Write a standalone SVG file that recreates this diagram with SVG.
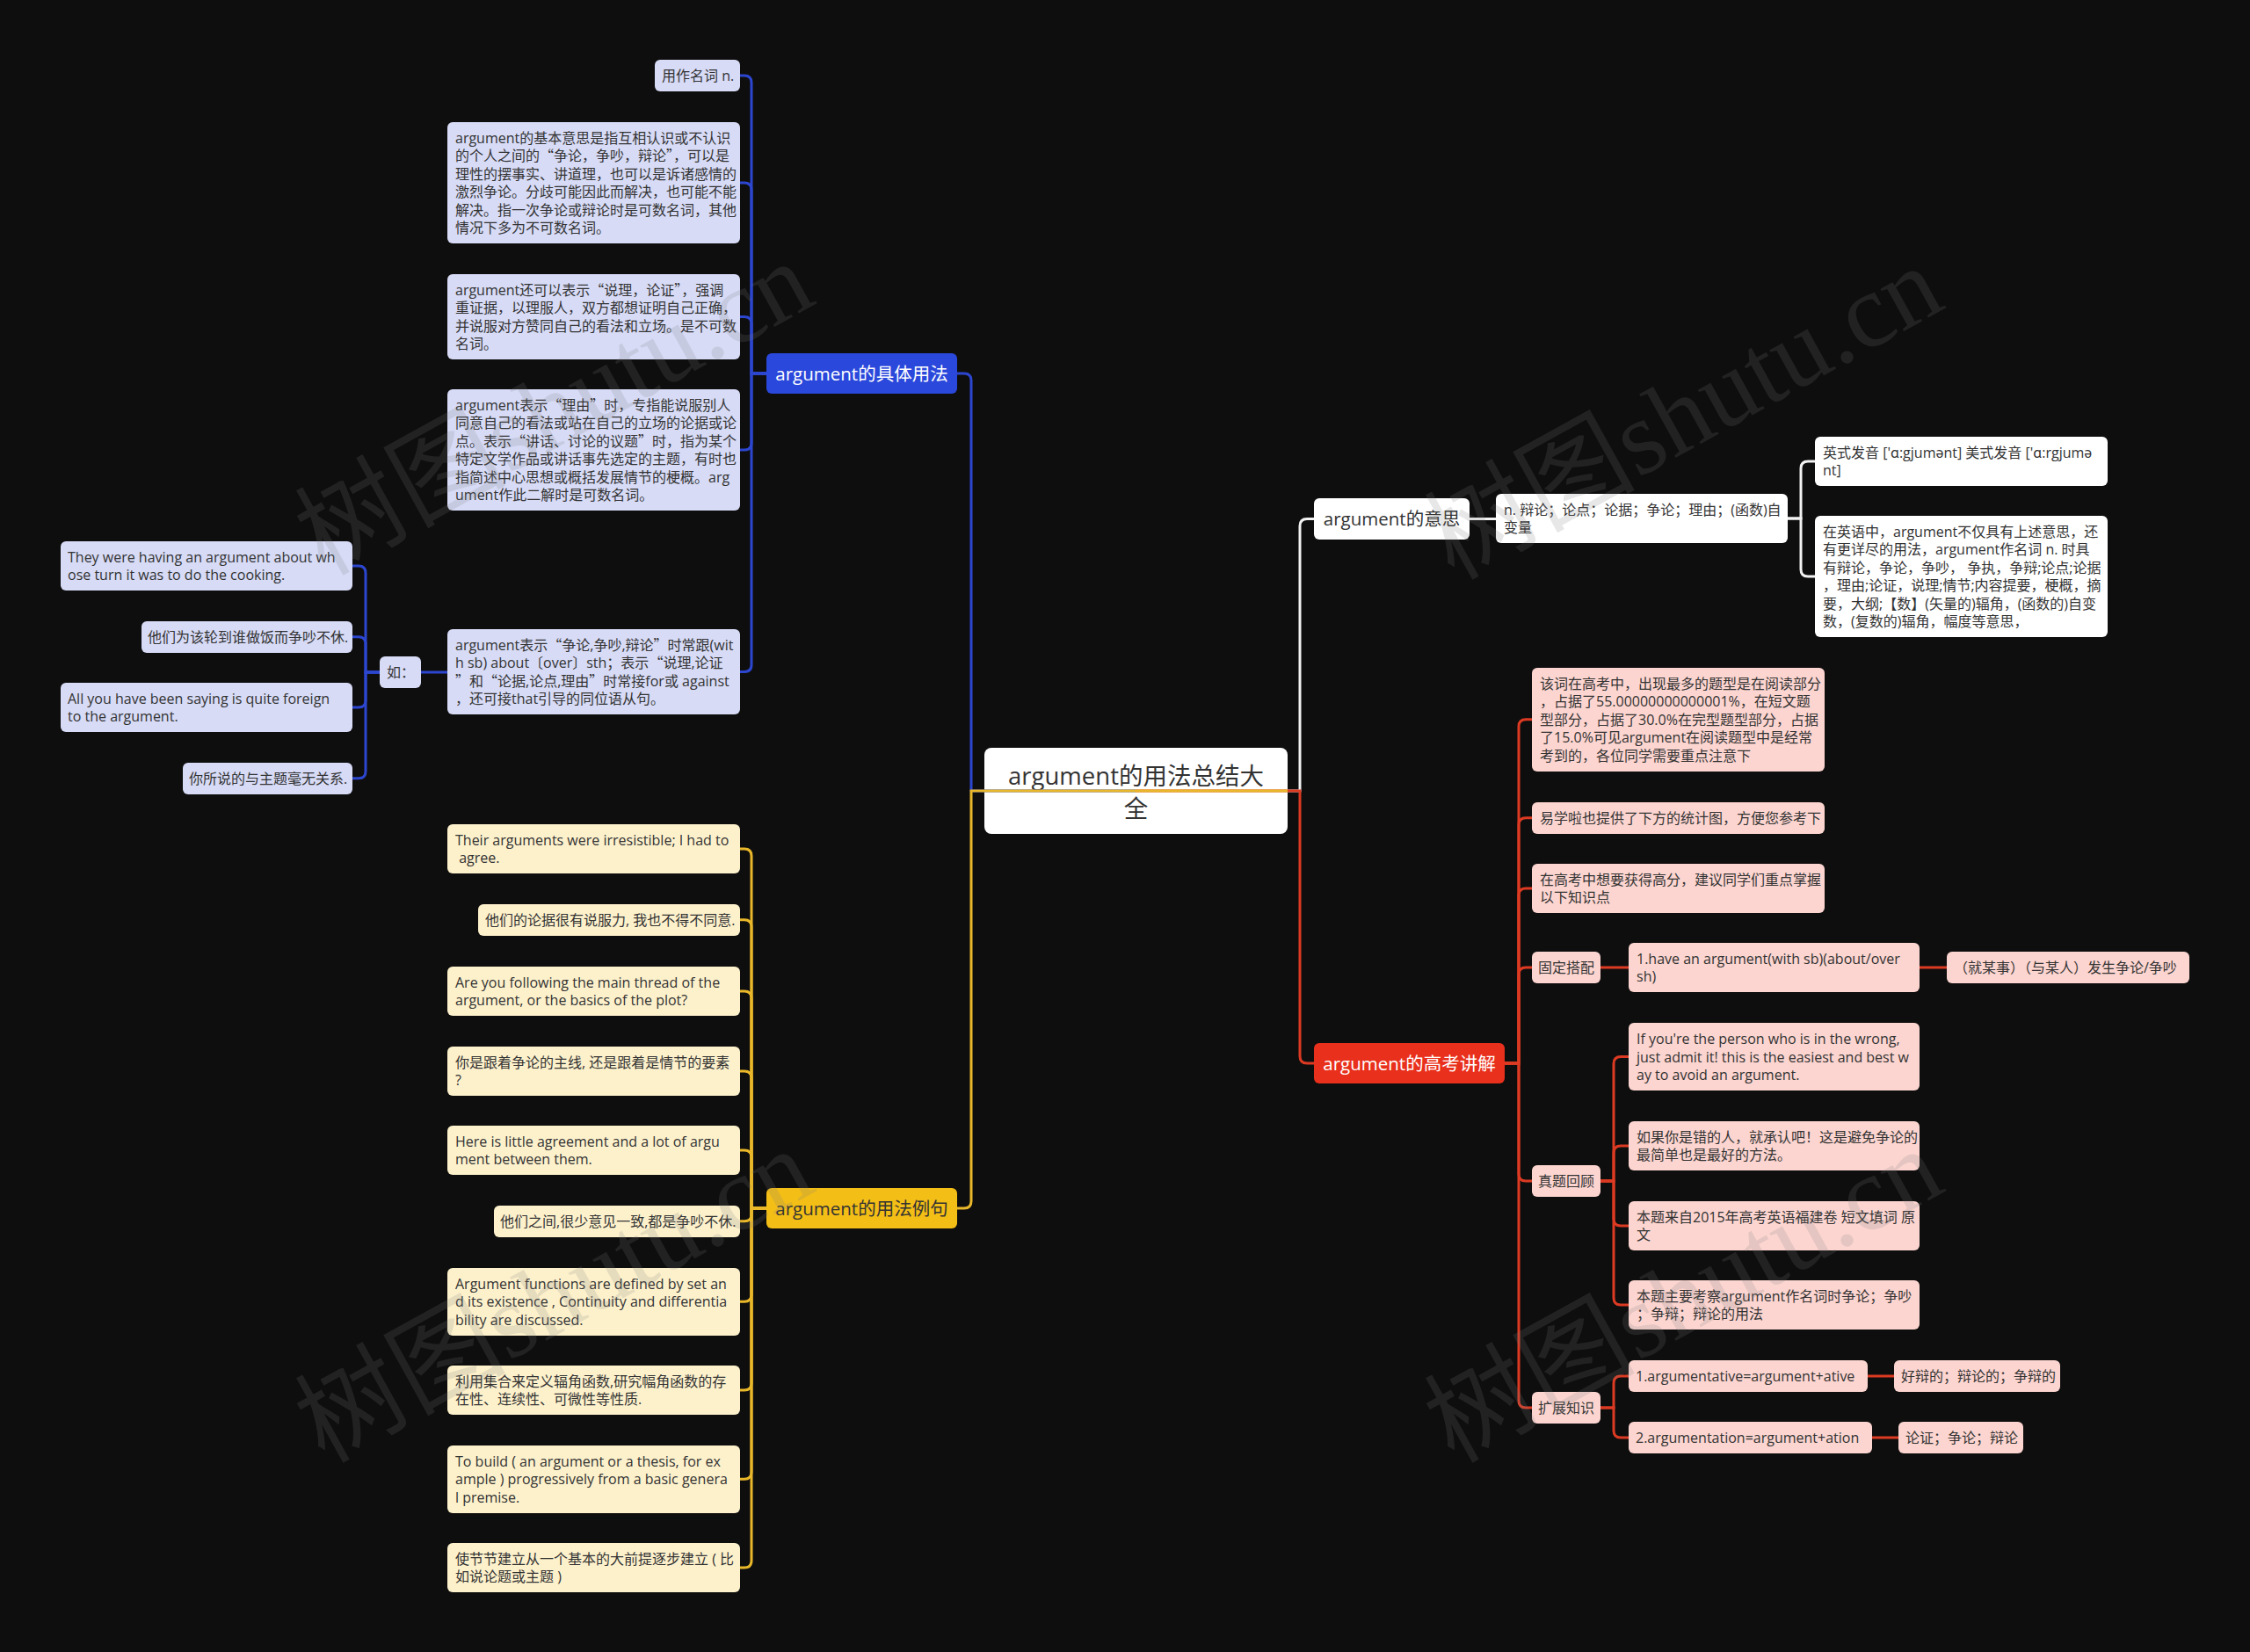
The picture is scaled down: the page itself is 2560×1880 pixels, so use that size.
<svg xmlns="http://www.w3.org/2000/svg" width="2560" height="1880" viewBox="0 0 2560 1880">
<style>
.bg{fill:#0e0e0e}
.lb{fill:#d7dbf6}
.ly{fill:#fdf1cc}
.lr{fill:#fcd5d0}
.lw{fill:#ffffff}
.nb{fill:#2a48db}
.ny{fill:#f3be16}
.nr{fill:#e9301c}
.t{font-family:"Open Sans","Noto Sans CJK SC",sans-serif;font-size:16px;fill:#333}
.q{font-family:"Noto Sans CJK SC",sans-serif}
.tb{font-family:"Open Sans","Noto Sans CJK SC",sans-serif;font-size:20.5px;text-anchor:middle}
.tr{font-family:"Open Sans","Noto Sans CJK SC",sans-serif;font-size:27.5px;text-anchor:middle;fill:#333}
.dk{fill:#333}
.wt{fill:#fff}
.c{fill:none;stroke-width:3}
.cb{stroke:#2c46cf}
.cy{stroke:#e9b72a}
.cr{stroke:#dc3a22}
.cw{stroke:#f2f2f2}
.wm{font-family:"Liberation Serif","Noto Sans CJK SC",serif;font-size:120px;fill:#7f7f7f;opacity:0.18;text-anchor:middle}
</style>
<rect class="bg" x="0" y="0" width="2560" height="1880"/>

<g id="root">
<rect x="1120" y="851" width="345" height="98" rx="8" class="lw"/>
<text class="tr"><tspan x="1292.5" y="893">argument的用法总结大</tspan><tspan x="1292.5" y="930">全</tspan></text>
</g>

<g id="b-usage">
<rect x="872" y="402" width="217" height="46" rx="6" class="nb"/>
<text class="tb wt" x="980.5" y="432.5">argument的具体用法</text>
</g>
<g id="u1"><rect x="745" y="68" width="97" height="36" rx="6" class="lb"/>
<text class="t" x="753" y="92">用作名词 n.</text></g>
<g id="u2"><rect x="509" y="139" width="333" height="138" rx="6" class="lb"/>
<text class="t"><tspan x="518" y="162.75">argument的基本意思是指互相认识或不认识</tspan><tspan x="518" y="183.25">的个人之间的<tspan class="q">“</tspan>争论，争吵，辩论<tspan class="q">”</tspan>，可以是</tspan><tspan x="518" y="203.75">理性的摆事实、讲道理，也可以是诉诸感情的</tspan><tspan x="518" y="224.25">激烈争论。分歧可能因此而解决，也可能不能</tspan><tspan x="518" y="244.75">解决。指一次争论或辩论时是可数名词，其他</tspan><tspan x="518" y="265.25">情况下多为不可数名词。</tspan></text></g>
<g id="u3"><rect x="509" y="312" width="333" height="97" rx="6" class="lb"/>
<text class="t"><tspan x="518" y="335.75">argument还可以表示<tspan class="q">“</tspan>说理，论证<tspan class="q">”</tspan>，强调</tspan><tspan x="518" y="356.25">重证据，以理服人，双方都想证明自己正确，</tspan><tspan x="518" y="376.75">并说服对方赞同自己的看法和立场。是不可数</tspan><tspan x="518" y="397.25">名词。</tspan></text></g>
<g id="u4"><rect x="509" y="443" width="333" height="138" rx="6" class="lb"/>
<text class="t"><tspan x="518" y="466.75">argument表示<tspan class="q">“</tspan>理由<tspan class="q">”</tspan>时，专指能说服别人</tspan><tspan x="518" y="487.25">同意自己的看法或站在自己的立场的论据或论</tspan><tspan x="518" y="507.75">点。表示<tspan class="q">“</tspan>讲话、讨论的议题<tspan class="q">”</tspan>时，指为某个</tspan><tspan x="518" y="528.25">特定文学作品或讲话事先选定的主题，有时也</tspan><tspan x="518" y="548.75">指简述中心思想或概括发展情节的梗概。arg</tspan><tspan x="518" y="569.25">ument作此二解时是可数名词。</tspan></text></g>
<g id="u5"><rect x="509" y="716" width="333" height="97" rx="6" class="lb"/>
<text class="t"><tspan x="518" y="739.75">argument表示<tspan class="q">“</tspan>争论,争吵,辩论<tspan class="q">”</tspan>时常跟(wit</tspan><tspan x="518" y="760.25">h sb) about〔over〕sth；表示<tspan class="q">“</tspan>说理,论证</tspan><tspan x="518" y="780.75"><tspan class="q">”</tspan>和<tspan class="q">“</tspan>论据,论点,理由<tspan class="q">”</tspan>时常接for或 against</tspan><tspan x="518" y="801.25">，还可接that引导的同位语从句。</tspan></text></g>
<g id="ru"><rect x="432" y="747" width="47" height="36" rx="6" class="lb"/>
<text class="t" x="440" y="771">如：</text></g>
<g id="e1"><rect x="69" y="616" width="332" height="56" rx="6" class="lb"/>
<text class="t"><tspan x="77" y="639.75">They were having an argument about wh</tspan><tspan x="77" y="660.25">ose turn it was to do the cooking.</tspan></text></g>
<g id="e2"><rect x="161" y="707" width="240" height="36" rx="6" class="lb"/>
<text class="t" x="168" y="730.75">他们为该轮到谁做饭而争吵不休.</text></g>
<g id="e3"><rect x="69" y="777" width="332" height="56" rx="6" class="lb"/>
<text class="t"><tspan x="77" y="800.75">All you have been saying is quite foreign</tspan><tspan x="77" y="821.25">to the argument.</tspan></text></g>
<g id="e4"><rect x="208" y="868" width="193" height="36" rx="6" class="lb"/>
<text class="t" x="215" y="891.75">你所说的与主题毫无关系.</text></g>

<g id="b-examples">
<rect x="872" y="1352" width="217" height="46" rx="6" class="ny"/>
<text class="tb dk" x="980.5" y="1382.5">argument的用法例句</text>
</g>
<g id="y1"><rect x="509" y="938" width="333" height="56" rx="6" class="ly"/>
<text class="t"><tspan x="518" y="961.75">Their arguments were irresistible; I had to</tspan><tspan x="518" y="982.25">&#160;agree.</tspan></text></g>
<g id="y2"><rect x="544" y="1029" width="298" height="36" rx="6" class="ly"/>
<text class="t" x="552" y="1052.75">他们的论据很有说服力, 我也不得不同意.</text></g>
<g id="y3"><rect x="509" y="1100" width="333" height="56" rx="6" class="ly"/>
<text class="t"><tspan x="518" y="1123.75">Are you following the main thread of the</tspan><tspan x="518" y="1144.25">argument, or the basics of the plot?</tspan></text></g>
<g id="y4"><rect x="509" y="1191" width="333" height="56" rx="6" class="ly"/>
<text class="t"><tspan x="518" y="1214.75">你是跟着争论的主线, 还是跟着是情节的要素</tspan><tspan x="518" y="1235.25">?</tspan></text></g>
<g id="y5"><rect x="509" y="1281" width="333" height="56" rx="6" class="ly"/>
<text class="t"><tspan x="518" y="1304.75">Here is little agreement and a lot of argu</tspan><tspan x="518" y="1325.25">ment between them.</tspan></text></g>
<g id="y6"><rect x="562" y="1372" width="280" height="36" rx="6" class="ly"/>
<text class="t" x="569" y="1395.75">他们之间,很少意见一致,都是争吵不休.</text></g>
<g id="y7"><rect x="509" y="1443" width="333" height="77" rx="6" class="ly"/>
<text class="t"><tspan x="518" y="1466.75">Argument functions are defined by set an</tspan><tspan x="518" y="1487.25">d its existence , Continuity and differentia</tspan><tspan x="518" y="1507.75">bility are discussed.</tspan></text></g>
<g id="y8"><rect x="509" y="1554" width="333" height="56" rx="6" class="ly"/>
<text class="t"><tspan x="518" y="1577.75">利用集合来定义辐角函数,研究幅角函数的存</tspan><tspan x="518" y="1598.25">在性、连续性、可微性等性质.</tspan></text></g>
<g id="y9"><rect x="509" y="1645" width="333" height="77" rx="6" class="ly"/>
<text class="t"><tspan x="518" y="1668.75">To build ( an argument or a thesis, for ex</tspan><tspan x="518" y="1689.25">ample ) progressively from a basic genera</tspan><tspan x="518" y="1709.75">l premise.</tspan></text></g>
<g id="y10"><rect x="509" y="1756" width="333" height="56" rx="6" class="ly"/>
<text class="t"><tspan x="518" y="1779.75">使节节建立从一个基本的大前提逐步建立 ( 比</tspan><tspan x="518" y="1800.25">如说论题或主题 )</tspan></text></g>

<g id="b-meaning">
<rect x="1495" y="567" width="177" height="47" rx="6" class="lw"/>
<text class="tb dk" x="1583.5" y="598">argument的意思</text>
</g>
<g id="m1"><rect x="1702" y="562" width="332" height="56" rx="6" class="lw"/>
<text class="t"><tspan x="1711" y="585.75">n. 辩论；论点；论据；争论；理由；(函数)自</tspan><tspan x="1711" y="606.25">变量</tspan></text></g>
<g id="m2"><rect x="2065" y="497" width="333" height="56" rx="6" class="lw"/>
<text class="t"><tspan x="2074" y="520.75">英式发音 ['ɑ:gjumənt] 美式发音 ['ɑ:rgjumə</tspan><tspan x="2074" y="541.25">nt]</tspan></text></g>
<g id="m3"><rect x="2065" y="587" width="333" height="138" rx="6" class="lw"/>
<text class="t"><tspan x="2074" y="610.75">在英语中，argument不仅具有上述意思，还</tspan><tspan x="2074" y="631.25">有更详尽的用法，argument作名词 n. 时具</tspan><tspan x="2074" y="651.75">有辩论，争论，争吵， 争执，争辩;论点;论据</tspan><tspan x="2074" y="672.25">，理由;论证，说理;情节;内容提要，梗概，摘</tspan><tspan x="2074" y="692.75">要，大纲;【数】(矢量的)辐角，(函数的)自变</tspan><tspan x="2074" y="713.25">数，(复数的)辐角，幅度等意思，</tspan></text></g>

<g id="b-exam">
<rect x="1495" y="1187" width="217" height="46" rx="6" class="nr"/>
<text class="tb wt" x="1603.5" y="1217.5">argument的高考讲解</text>
</g>
<g id="r1"><rect x="1743" y="760" width="333" height="118" rx="6" class="lr"/>
<text class="t"><tspan x="1752" y="783.75">该词在高考中，出现最多的题型是在阅读部分</tspan><tspan x="1752" y="804.25">，占据了55.00000000000001%，在短文题</tspan><tspan x="1752" y="824.75">型部分，占据了30.0%在完型题型部分，占据</tspan><tspan x="1752" y="845.25">了15.0%可见argument在阅读题型中是经常</tspan><tspan x="1752" y="865.75">考到的，各位同学需要重点注意下</tspan></text></g>
<g id="r2"><rect x="1743" y="913" width="333" height="36" rx="6" class="lr"/>
<text class="t" x="1752" y="936.75">易学啦也提供了下方的统计图，方便您参考下</text></g>
<g id="r3"><rect x="1743" y="983" width="333" height="56" rx="6" class="lr"/>
<text class="t"><tspan x="1752" y="1006.75">在高考中想要获得高分，建议同学们重点掌握</tspan><tspan x="1752" y="1027.25">以下知识点</tspan></text></g>
<g id="r4"><rect x="1743" y="1083" width="78" height="36" rx="6" class="lr"/>
<text class="t" x="1750" y="1107">固定搭配</text></g>
<g id="r4a"><rect x="1853" y="1073" width="331" height="56" rx="6" class="lr"/>
<text class="t"><tspan x="1862" y="1096.75">1.have an argument(with sb)(about/over</tspan><tspan x="1862" y="1117.25">sh)</tspan></text></g>
<g id="r4b"><rect x="2215" y="1083" width="276" height="36" rx="6" class="lr"/>
<text class="t" x="2223" y="1107">（就某事）（与某人）发生争论/争吵</text></g>
<g id="r5"><rect x="1743" y="1326" width="78" height="36" rx="6" class="lr"/>
<text class="t" x="1750" y="1350">真题回顾</text></g>
<g id="r5a"><rect x="1853" y="1164" width="331" height="77" rx="6" class="lr"/>
<text class="t"><tspan x="1862" y="1188">If you're the person who is in the wrong,</tspan><tspan x="1862" y="1208.5">just admit it! this is the easiest and best w</tspan><tspan x="1862" y="1229">ay to avoid an argument.</tspan></text></g>
<g id="r5b"><rect x="1853" y="1276" width="331" height="56" rx="6" class="lr"/>
<text class="t"><tspan x="1862" y="1299.75">如果你是错的人，就承认吧！这是避免争论的</tspan><tspan x="1862" y="1320.25">最简单也是最好的方法。</tspan></text></g>
<g id="r5c"><rect x="1853" y="1367" width="331" height="56" rx="6" class="lr"/>
<text class="t"><tspan x="1862" y="1390.75">本题来自2015年高考英语福建卷 短文填词 原</tspan><tspan x="1862" y="1411.25">文</tspan></text></g>
<g id="r5d"><rect x="1853" y="1457" width="331" height="56" rx="6" class="lr"/>
<text class="t"><tspan x="1862" y="1480.75">本题主要考察argument作名词时争论；争吵</tspan><tspan x="1862" y="1501.25">；争辩；辩论的用法</tspan></text></g>
<g id="r6"><rect x="1743" y="1584" width="78" height="36" rx="6" class="lr"/>
<text class="t" x="1750" y="1608">扩展知识</text></g>
<g id="r6a"><rect x="1853" y="1548" width="272" height="36" rx="6" class="lr"/>
<text class="t" x="1861" y="1572">1.argumentative=argument+ative</text></g>
<g id="r6a1"><rect x="2155" y="1548" width="189" height="36" rx="6" class="lr"/>
<text class="t" x="2163" y="1572">好辩的；辩论的；争辩的</text></g>
<g id="r6b"><rect x="1853" y="1618" width="277" height="36" rx="6" class="lr"/>
<text class="t" x="1861" y="1642">2.argumentation=argument+ation</text></g>
<g id="r6b1"><rect x="2160" y="1618" width="142" height="36" rx="6" class="lr"/>
<text class="t" x="2168" y="1642">论证；争论；辩论</text></g>

<g id="connectors">
<path class="c cw" d="M1292 900 H1479 V598.5 Q1479 590.5 1487 590.5 H1495"/>
<path class="c cr" d="M1292 900 H1479 V1202 Q1479 1210 1487 1210 H1495"/>
<path class="c cb" d="M1292 900 H1105 V433 Q1105 425 1097 425 H1089"/>
<path class="c cy" d="M1465 900 H1105 V1367 Q1105 1375 1097 1375 H1089"/>

<path class="c cb" d="M872 425 H855 V94 Q855 86 847 86 H842"/>
<path class="c cb" d="M872 425 H855 V216 Q855 208 847 208 H842"/>
<path class="c cb" d="M872 425 H855 V368.5 Q855 360.5 847 360.5 H842"/>
<path class="c cb" d="M872 425 H855 V504 Q855 512 847 512 H842"/>
<path class="c cb" d="M872 425 H855 V756.5 Q855 764.5 847 764.5 H842"/>
<path class="c cb" d="M509 765 H479"/>
<path class="c cb" d="M432 765 H416 V652 Q416 644 408 644 H401"/>
<path class="c cb" d="M432 765 H416 V732.75 Q416 724.75 408 724.75 H401"/>
<path class="c cb" d="M432 765 H416 V797 Q416 805 408 805 H401"/>
<path class="c cb" d="M432 765 H416 V877.75 Q416 885.75 408 885.75 H401"/>

<path class="c cy" d="M872 1375 H855 V974 Q855 966 847 966 H842"/>
<path class="c cy" d="M872 1375 H855 V1054.75 Q855 1046.75 847 1046.75 H842"/>
<path class="c cy" d="M872 1375 H855 V1136 Q855 1128 847 1128 H842"/>
<path class="c cy" d="M872 1375 H855 V1227 Q855 1219 847 1219 H842"/>
<path class="c cy" d="M872 1375 H855 V1317 Q855 1309 847 1309 H842"/>
<path class="c cy" d="M872 1375 H855 V1381.75 Q855 1389.75 847 1389.75 H842"/>
<path class="c cy" d="M872 1375 H855 V1473.25 Q855 1481.25 847 1481.25 H842"/>
<path class="c cy" d="M872 1375 H855 V1574 Q855 1582 847 1582 H842"/>
<path class="c cy" d="M872 1375 H855 V1675.25 Q855 1683.25 847 1683.25 H842"/>
<path class="c cy" d="M872 1375 H855 V1776 Q855 1784 847 1784 H842"/>

<path class="c cw" d="M1672 590.5 H1702"/>
<path class="c cw" d="M2034 590 H2049 V533 Q2049 525 2057 525 H2065"/>
<path class="c cw" d="M2034 590 H2049 V648 Q2049 656 2057 656 H2065"/>

<path class="c cr" d="M1712 1210 H1728 V826.75 Q1728 818.75 1736 818.75 H1743"/>
<path class="c cr" d="M1712 1210 H1728 V938.75 Q1728 930.75 1736 930.75 H1743"/>
<path class="c cr" d="M1712 1210 H1728 V1019 Q1728 1011 1736 1011 H1743"/>
<path class="c cr" d="M1712 1210 H1728 V1109 Q1728 1101 1736 1101 H1743"/>
<path class="c cr" d="M1712 1210 H1728 V1336 Q1728 1344 1736 1344 H1743"/>
<path class="c cr" d="M1712 1210 H1728 V1594 Q1728 1602 1736 1602 H1743"/>
<path class="c cr" d="M1821 1101 H1853"/>
<path class="c cr" d="M2184 1101 H2215"/>
<path class="c cr" d="M1821 1344 H1836 V1210.5 Q1836 1202.5 1844 1202.5 H1853"/>
<path class="c cr" d="M1821 1344 H1836 V1312 Q1836 1304 1844 1304 H1853"/>
<path class="c cr" d="M1821 1344 H1836 V1387 Q1836 1395 1844 1395 H1853"/>
<path class="c cr" d="M1821 1344 H1836 V1477 Q1836 1485 1844 1485 H1853"/>
<path class="c cr" d="M1821 1602 H1836 V1574 Q1836 1566 1844 1566 H1853"/>
<path class="c cr" d="M1821 1602 H1836 V1628 Q1836 1636 1844 1636 H1853"/>
<path class="c cr" d="M2125 1566 H2155"/>
<path class="c cr" d="M2130 1636 H2160"/>
</g>

<g id="watermarks">
<text class="wm" transform="translate(650,500) rotate(-29)">树图shutu.cn</text>
<text class="wm" transform="translate(1935,505) rotate(-29)">树图shutu.cn</text>
<text class="wm" transform="translate(650,1510) rotate(-29)">树图shutu.cn</text>
<text class="wm" transform="translate(1935,1510) rotate(-29)">树图shutu.cn</text>
</g>
</svg>
